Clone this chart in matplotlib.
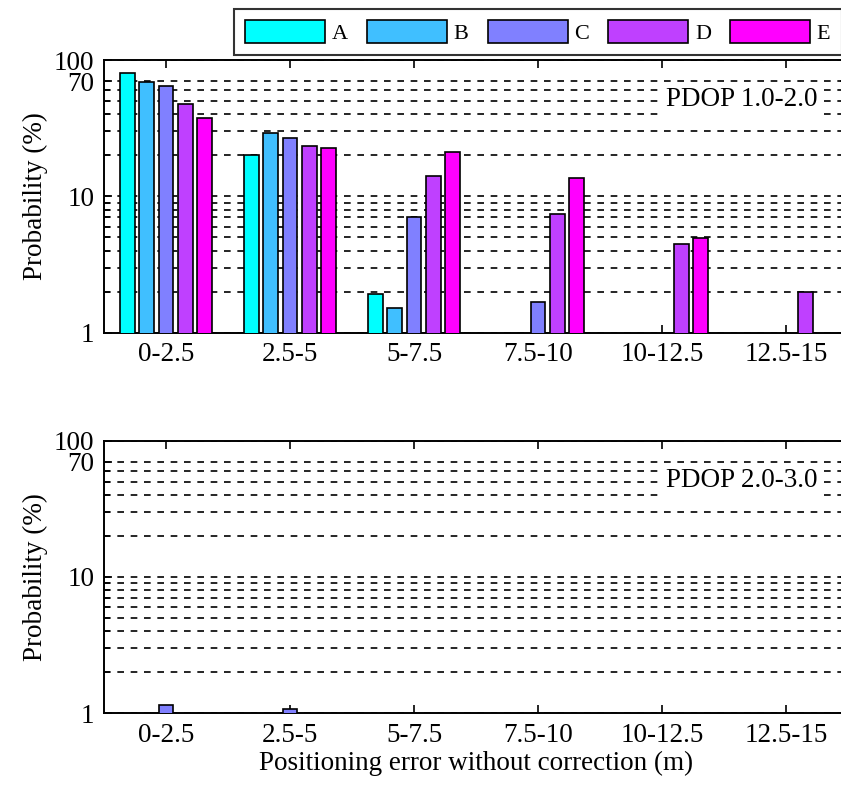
import numpy as np
import matplotlib
matplotlib.use("Agg")
import matplotlib.pyplot as plt
from matplotlib.ticker import FixedLocator, NullFormatter

plt.rcParams['font.family'] = ['Liberation Serif', 'DejaVu Serif']

# DATA
categories = ['0-2.5', '2.5-5', '5-7.5', '7.5-10', '10-12.5', '12.5-15']
series_names = ['A', 'B', 'C', 'D', 'E']
colors = ['#00FFFF', '#40BFFF', '#8080FF', '#BF40FF', '#FF00FF']
nan = np.nan

# PDOP 1.0-2.0 (probability, %)
top_A = [79.9, 20.1, 1.91, nan, nan, nan]
top_B = [69.3, 29.1, 1.51, nan, nan, nan]
top_C = [64.5, 26.8, 7.02, 1.67, nan, nan]
top_D = [47.5, 23.5, 14.1, 7.42, 4.47, 1.98]
top_E = [37.8, 22.6, 21.0, 13.6, 4.92, nan]

# PDOP 2.0-3.0 (probability, %)
bot_A = [nan, nan, nan, nan, nan, nan]
bot_B = [nan, nan, nan, nan, nan, nan]
bot_C = [1.15, 1.08, nan, nan, nan, nan]
bot_D = [nan, nan, nan, nan, nan, nan]
bot_E = [nan, nan, nan, nan, nan, nan]

panel_labels = ['PDOP 1.0-2.0', 'PDOP 2.0-3.0']
ytick_vals = [1, 10, 70, 100]
grid_minor = [2, 3, 4, 5, 6, 7, 8, 9, 20, 30, 40, 50, 60]

FS = 19.5

fig = plt.figure(figsize=(8.41, 7.90), dpi=100)
W, H = 841.0, 790.0
ax_left = 104 / W
ax_w = 744 / W
ax_h = 272.7 / H
ax1 = fig.add_axes([ax_left, 1 - 332.7 / H, ax_w, ax_h])
ax2 = fig.add_axes([ax_left, 1 - 713.3 / H, ax_w, ax_h])

x = np.arange(1, len(categories) + 1)
pitch = 0.154
width = 0.12

def draw_panel(ax, data, label):
    handles = []
    for i, (vals, c) in enumerate(zip(data, colors)):
        h = ax.bar(x + (i - 2) * pitch, vals, width, color=c,
                   edgecolor='black', linewidth=1.2, zorder=3, label=series_names[i])
        handles.append(h)
    ax.set_yscale('log')
    ax.set_ylim(1, 100)
    ax.set_xlim(0.5, len(categories) + 0.5)
    ax.set_xticks(x)
    ax.set_xticklabels(categories, fontsize=FS)
    ax.yaxis.set_major_locator(FixedLocator(ytick_vals))
    ax.set_yticklabels([str(v) for v in ytick_vals], fontsize=FS)
    ax.yaxis.set_minor_locator(FixedLocator(grid_minor))
    ax.yaxis.set_minor_formatter(NullFormatter())
    ax.tick_params(axis='both', which='major', direction='in', length=6,
                   width=1.2, top=True, right=True, pad=7)
    ax.tick_params(axis='y', which='minor', direction='in', length=4,
                   width=1.2, right=True)
    ax.grid(True, which='both', axis='y', color='black', linestyle=(0, (4, 4)),
            linewidth=1.2, zorder=1)
    for s in ax.spines.values():
        s.set_linewidth(1.4)
    ax.set_ylabel('Probability (%)', fontsize=FS, labelpad=4)
    ax.text(5.64, 50.9, label, fontsize=FS, ha='center', va='center', zorder=4,
            bbox=dict(facecolor='white', edgecolor='none', pad=3))
    return handles

handles = draw_panel(ax1, [top_A, top_B, top_C, top_D, top_E], panel_labels[0])
draw_panel(ax2, [bot_A, bot_B, bot_C, bot_D, bot_E], panel_labels[1])
ax2.set_xlabel('Positioning error without correction (m)', fontsize=FS, labelpad=2)

leg = fig.legend(handles, series_names, loc='lower left',
                 bbox_to_anchor=(234 / W, 1 - 55 / H), ncol=5, fontsize=16,
                 frameon=True, fancybox=False, edgecolor='black',
                 handlelength=3.6, handleheight=1.22, handletextpad=0.3,
                 columnspacing=0.86, borderpad=0.5, borderaxespad=0)
leg.get_frame().set_linewidth(1.5)

fig.savefig('out.png', dpi=100)
